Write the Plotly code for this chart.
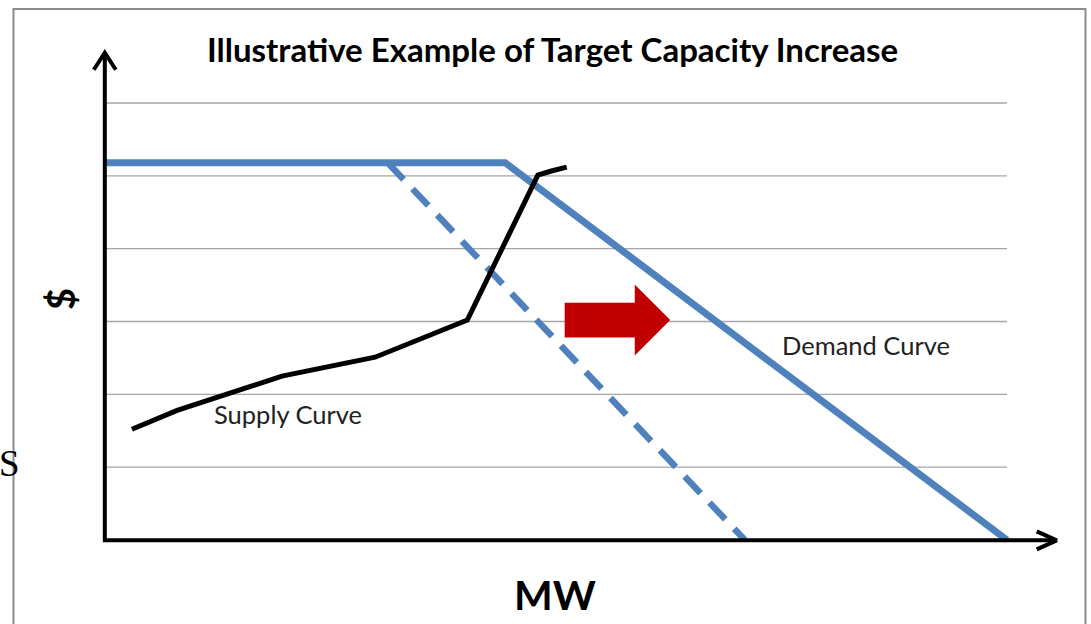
import plotly.graph_objects as go

# ---------------- data ----------------
# Supply curve (MW, $)
supply_x = [0.32, 0.82, 1.98, 3.01, 4.03, 4.81, 4.97, 5.13]
supply_y = [1.52, 1.78, 2.25, 2.51, 3.02, 5.01, 5.07, 5.12]

# Demand curve after increase (solid)
demand_x = [0.0, 4.45, 10.0]
demand_y = [5.18, 5.18, 0.0]

# Original demand curve (dashed, diagonal part only)
demand_old_x = [3.15, 7.10]
demand_old_y = [5.18, 0.0]

# Horizontal gridline levels
grid_levels = [1, 2, 3, 4, 5, 6]
grid_x_end = 10.0

# Shift arrow (x0 body start, x1 head base, x2 tip; y center, half body, half head)
shift_arrow = dict(x0=5.11, x1=5.885, x2=6.272, yc=3.02, hb=0.235, hh=0.48)

# Axis extents (arrow tips)
x_axis_end = 10.55
y_axis_end = 6.69

W, H = 1091, 624
# pixel mapping: origin at (103, 540); 90.4 px per x unit, 72.83 px per y unit
XPX, YPX = 90.4, 72.83
x_range = [(0 - 103) / XPX, (W - 103) / XPX]
y_range = [(540 - H) / YPX, 540 / YPX]

BLUE = "#4F81BD"

fig = go.Figure()

# gridlines
for g in grid_levels:
    fig.add_shape(type="line", x0=0.03, x1=grid_x_end, y0=g, y1=g,
                  line=dict(color="#A6A6A6", width=1.3), layer="below")

# dashed old demand
fig.add_trace(go.Scatter(x=demand_old_x, y=demand_old_y, mode="lines",
                         line=dict(color=BLUE, width=6.5, dash="23px,13px"),
                         hoverinfo="skip"))
# solid demand
fig.add_trace(go.Scatter(x=demand_x, y=demand_y, mode="lines",
                         line=dict(color=BLUE, width=7),
                         hoverinfo="skip"))
# supply
fig.add_trace(go.Scatter(x=supply_x, y=supply_y, mode="lines",
                         line=dict(color="black", width=5),
                         hoverinfo="skip"))

# red shift arrow
a = shift_arrow
ax = [a["x0"], a["x1"], a["x1"], a["x2"], a["x1"], a["x1"], a["x0"], a["x0"]]
ay = [a["yc"] + a["hb"], a["yc"] + a["hb"], a["yc"] + a["hh"], a["yc"],
      a["yc"] - a["hh"], a["yc"] - a["hb"], a["yc"] - a["hb"], a["yc"] + a["hb"]]
fig.add_trace(go.Scatter(x=ax, y=ay, mode="lines", fill="toself",
                         fillcolor="#C00000", line=dict(color="#C00000", width=0.5),
                         hoverinfo="skip"))

# axes (black) with chevron heads
ax_w = 4
fig.add_trace(go.Scatter(x=[0.02, 0.02, x_axis_end], y=[y_axis_end, -0.005, -0.005], mode="lines",
                         line=dict(color="black", width=ax_w), hoverinfo="skip"))
cy = 17 / YPX
fig.add_trace(go.Scatter(x=[0.02 - 11 / XPX, 0.02, 0.02 + 11 / XPX],
                         y=[y_axis_end - cy, y_axis_end, y_axis_end - cy], mode="lines",
                         line=dict(color="black", width=ax_w), hoverinfo="skip"))
fig.add_trace(go.Scatter(x=[x_axis_end - 20 / XPX, x_axis_end, x_axis_end - 20 / XPX],
                         y=[-0.005 + 9 / YPX, -0.005, -0.005 - 9 / YPX], mode="lines",
                         line=dict(color="black", width=ax_w), hoverinfo="skip"))

# frame
fig.add_shape(type="rect", xref="paper", yref="paper",
              x0=13.5 / W, x1=1085.5 / W, y0=-0.05, y1=1 - 9 / H,
              line=dict(color="#8C8C8C", width=2))

def px(xp):
    return xp / W

def py(yp):
    return 1 - yp / H

FONT = "Lato, 'Open Sans', sans-serif"
ann = [
    dict(text="<b>Illustrative Example of Target Capacity Increase</b>", x=px(552), y=py(49),
         font=dict(size=33, color="black", family=FONT)),
    dict(text="<b>MW</b>", x=px(555), y=py(594), font=dict(size=41, color="black", family=FONT)),
    dict(text="<b>$</b>", x=px(60), y=py(299), textangle=-90,
         font=dict(size=38, color="black", family=FONT)),
    dict(text="Demand Curve", x=px(866), y=py(345), font=dict(size=25.5, color="#222", family=FONT)),
    dict(text="Supply Curve", x=px(288), y=py(414), font=dict(size=25.5, color="#222", family=FONT)),
    dict(text="S", x=px(9), y=py(463), font=dict(size=37, color="black",
                                               family="'Liberation Serif', serif")),
]
for a_ in ann:
    fig.add_annotation(xref="paper", yref="paper", showarrow=False,
                       xanchor="center", yanchor="middle", **a_)

fig.update_layout(
    width=W, height=H, margin=dict(l=0, r=0, t=0, b=0),
    paper_bgcolor="white", plot_bgcolor="white", showlegend=False,
    xaxis=dict(range=x_range, visible=False, fixedrange=True),
    yaxis=dict(range=y_range, visible=False, fixedrange=True),
)

fig.write_html("out.html", config={"displayModeBar": False},
               post_script="document.body.style.margin='0';")
